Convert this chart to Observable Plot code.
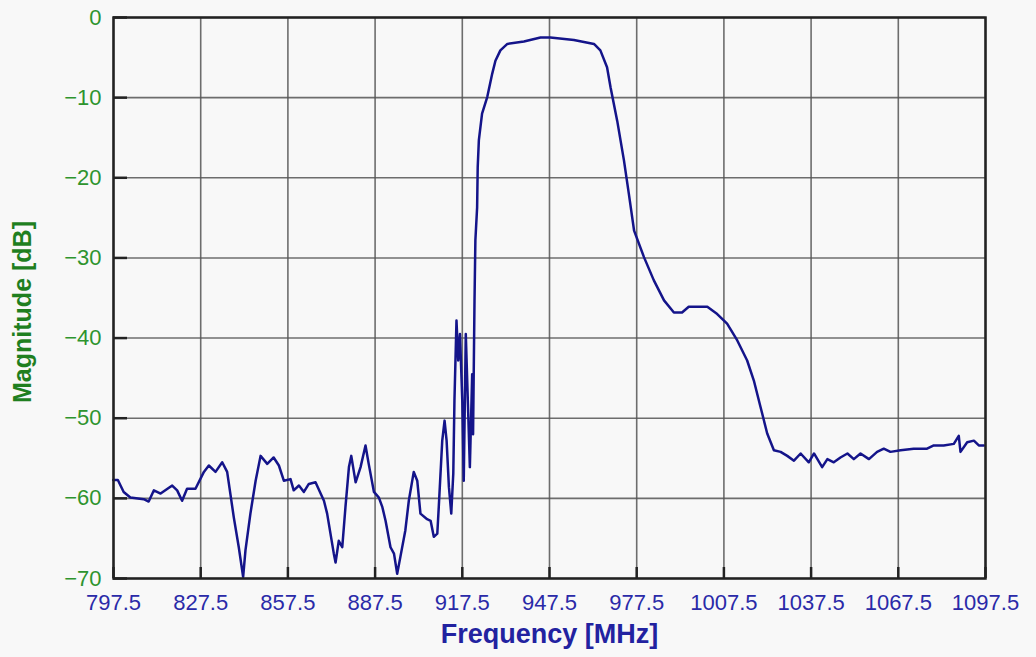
<!DOCTYPE html>
<html>
<head>
<meta charset="utf-8">
<script src="https://cdn.jsdelivr.net/npm/d3@7"></script>
<script src="https://cdn.jsdelivr.net/npm/@observablehq/plot@0.6"></script>
<style>
  html, body { margin: 0; padding: 0; background: #f8f8f8; }
  #chart svg { display: block; }
</style>
</head>
<body>
<div id="chart"></div>
<script>
// Frequency response
const freq = [797.4, 799.0, 801.0, 803.3, 807.9, 809.6, 811.4, 813.7, 817.7, 819.4, 821.1, 822.8, 825.7, 828.6, 830.3, 832.6, 834.9, 836.6, 838.9, 840.6, 842.1, 842.9, 844.6, 846.4, 848.1, 850.4, 852.6, 854.4, 856.1, 858.4, 859.5, 861.3, 863.0, 864.7, 867.0, 869.9, 871.0, 873.3, 873.9, 875.0, 876.2, 877.3, 878.5, 879.3, 880.8, 882.5, 884.2, 885.3, 887.1, 888.8, 890.0, 891.1, 892.8, 894.0, 895.1, 896.2, 897.9, 899.1, 900.8, 902.0, 903.1, 905.4, 906.6, 907.7, 908.9, 909.4, 910.6, 911.4, 912.1, 912.9, 913.7, 914.4, 914.8, 915.5, 916.1, 916.7, 917.5, 918.0, 918.7, 919.4, 920.1, 920.9, 921.2, 921.7, 922.0, 922.6, 922.8, 923.2, 924.3, 926.1, 927.8, 928.9, 930.6, 933.0, 938.7, 944.4, 947.8, 955.9, 962.8, 965.0, 967.3, 968.5, 970.8, 973.1, 974.8, 976.6, 980.0, 983.4, 986.9, 990.3, 993.1, 995.4, 1001.8, 1005.2, 1008.6, 1012.1, 1015.5, 1017.8, 1020.1, 1022.4, 1024.7, 1027.0, 1029.3, 1031.6, 1033.9, 1036.7, 1038.5, 1041.3, 1043.1, 1045.3, 1047.6, 1050.0, 1052.2, 1054.5, 1057.4, 1060.2, 1062.5, 1064.8, 1068.3, 1072.8, 1077.4, 1079.7, 1083.1, 1086.6, 1088.3, 1088.9, 1091.2, 1093.5, 1095.2, 1096.9];
const magnitude = [-57.7, -57.7, -59.2, -59.9, -60.1, -60.4, -59.0, -59.4, -58.4, -59.0, -60.3, -58.8, -58.8, -56.7, -55.9, -56.7, -55.5, -56.7, -62.4, -66.1, -69.8, -66.5, -61.9, -57.8, -54.7, -55.7, -54.9, -55.9, -57.8, -57.6, -59.0, -58.4, -59.2, -58.2, -58.0, -60.3, -61.9, -66.9, -68.0, -65.3, -66.1, -61.1, -56.1, -54.7, -58.0, -56.1, -53.4, -55.7, -59.2, -59.9, -61.1, -62.8, -66.1, -66.9, -69.4, -67.3, -64.0, -60.3, -56.7, -57.8, -61.9, -62.6, -62.8, -64.8, -64.4, -61.1, -52.8, -50.3, -52.8, -58.6, -61.9, -56.9, -47.8, -37.8, -42.8, -39.5, -47.8, -57.8, -39.5, -47.8, -56.1, -44.5, -52.0, -35.3, -27.8, -23.7, -18.7, -15.3, -12.0, -9.9, -7.0, -5.4, -4.1, -3.3, -3.0, -2.5, -2.5, -2.8, -3.3, -4.1, -6.2, -8.7, -12.9, -17.8, -22.0, -26.6, -29.9, -32.8, -35.3, -36.8, -36.8, -36.1, -36.1, -37.0, -38.2, -40.3, -42.8, -45.3, -48.6, -51.9, -54.0, -54.2, -54.7, -55.3, -54.4, -55.5, -54.4, -56.1, -55.1, -55.5, -54.9, -54.4, -55.1, -54.4, -55.1, -54.2, -53.8, -54.2, -54.0, -53.8, -53.8, -53.4, -53.4, -53.2, -52.2, -54.2, -53.0, -52.8, -53.4, -53.4];

const xTicks = [797.5, 827.5, 857.5, 887.5, 917.5, 947.5, 977.5, 1007.5, 1037.5, 1067.5, 1097.5];
const yTicks = [0, -10, -20, -30, -40, -50, -60, -70];

const data = freq.map((f, i) => ({f, m: magnitude[i]}));

const chart = Plot.plot({
  width: 1036,
  height: 657,
  marginLeft: 113,
  marginRight: 51,
  marginTop: 17,
  marginBottom: 79,
  style: {background: "#f8f8f8", fontFamily: "Arial, 'Liberation Sans', sans-serif"},
  x: {domain: [797.5, 1097.5]},
  y: {domain: [-70, 0]},
  marks: [
    Plot.gridX(xTicks, {stroke: "#555", strokeOpacity: 0.85, strokeWidth: 1.6}),
    Plot.gridY(yTicks, {stroke: "#555", strokeOpacity: 0.85, strokeWidth: 1.6}),
    Plot.tickX(xTicks, {x: d => d, stroke: "#222", strokeWidth: 2.5, insetTop: 561 - 11}),
    Plot.tickY(yTicks, {y: d => d, stroke: "#222", strokeWidth: 2.5, insetRight: 872 - 14}),
    Plot.axisX(xTicks, {
      tickSize: 0, tickPadding: 16, fontSize: 22, fill: "#2a2aa8",
      style: {letterSpacing: "2px"},
      tickFormat: d => d.toFixed(1), label: null
    }),
    Plot.axisY(yTicks, {
      tickSize: 0, tickPadding: 12, fontSize: 22, fill: "#2e942e",
      style: {letterSpacing: "3px"},
      label: null
    }),
    Plot.text(["Frequency [MHz]"], {
      frameAnchor: "bottom", dy: 64, fontSize: 27, fontWeight: "bold", fill: "#2222a0"
    }),
    Plot.text(["Magnitude [dB]"], {
      frameAnchor: "left", textAnchor: "middle", dx: -91, dy: 14, rotate: -90,
      fontSize: 25, fontWeight: "bold", fill: "#1f7f1f"
    }),
    Plot.line(data, {x: "f", y: "m", stroke: "#14148a", strokeWidth: 2.5, strokeLinejoin: "round"}),
    Plot.frame({stroke: "#222", strokeWidth: 2.5})
  ]
});
document.getElementById("chart").appendChild(chart);
</script>
</body>
</html>
